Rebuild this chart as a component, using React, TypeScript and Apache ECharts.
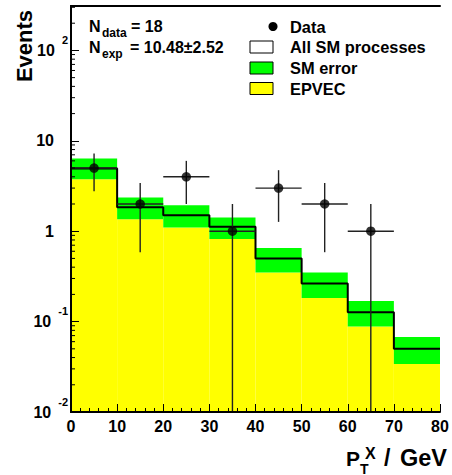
import React, { useEffect, useRef } from 'react';
import * as echarts from 'echarts';

// ---- data ----
const binEdges = [0, 10, 20, 30, 40, 50, 60, 70, 80];
const smTotal = [4.93, 1.84, 1.5, 1.12, 0.5, 0.264, 0.127, 0.05];
const smErrUp = [6.36, 2.36, 1.94, 1.42, 0.65, 0.35, 0.169, 0.0675];
const smErrDown = [3.76, 1.36, 1.1, 0.82, 0.35, 0.182, 0.088, 0.034];
const dataX = [5, 15, 25, 35, 45, 55, 65];
const dataCounts = [5, 2, 4, 1, 3, 2, 1];
const legendLabels = ['Data', 'All SM processes', 'SM error', 'EPVEC'];
const nDataText = '= 18';
const nExpText = '= 10.48\u00b12.52';

const Y_MIN = 0.01;
const Y_MAX = 310;
const X_MIN = 0;
const X_MAX = 80;
const HALF_BIN = 5;

// minor log ticks (2..9 x 10^k)
const minorTickValues: number[] = [];
for (let k = -2; k <= 2; k++) {
  for (let m = 2; m <= 9; m++) {
    const v = m * Math.pow(10, k);
    if (v < Y_MAX) minorTickValues.push(v);
  }
}

const FONT = '"Liberation Sans", Arial, Helvetica, sans-serif';
const bold = (size: number) => `bold ${size}px ${FONT}`;

export default function App() {
  const ref = useRef<HTMLDivElement>(null);
  useEffect(() => {
    if (!ref.current) return;
    const chart = echarts.init(ref.current, undefined, { renderer: 'svg' });

    const bins = binEdges.slice(0, -1).map((x, i) => [x, binEdges[i + 1], smErrDown[i], smErrUp[i]]);
    const stepLine = binEdges.map((x, i) => [x, smTotal[Math.min(i, smTotal.length - 1)]]);

    const legendRowY = [26.5, 47, 68, 88.5];
    const legendFills = ['#ffffff', '#00ff00', '#ffff00'];

    const graphic: any[] = [
      // Y title
      {
        type: 'text', x: 24, y: 46, rotation: Math.PI / 2,
        style: { text: 'Events', font: bold(22), fill: '#000', align: 'center', verticalAlign: 'middle' },
      },
      // N texts
      { type: 'text', x: 89, y: 26.5, style: { text: 'N', font: bold(16), fill: '#000', verticalAlign: 'middle' } },
      { type: 'text', x: 102, y: 33, style: { text: 'data', font: bold(12), fill: '#000', verticalAlign: 'middle' } },
      { type: 'text', x: 131, y: 26.5, style: { text: nDataText, font: bold(16), fill: '#000', verticalAlign: 'middle' } },
      { type: 'text', x: 89, y: 47, style: { text: 'N', font: bold(16), fill: '#000', verticalAlign: 'middle' } },
      { type: 'text', x: 102, y: 53.5, style: { text: 'exp', font: bold(12), fill: '#000', verticalAlign: 'middle' } },
      { type: 'text', x: 130, y: 47, style: { text: nExpText, font: bold(16), fill: '#000', verticalAlign: 'middle' } },
      // legend marker
      { type: 'circle', shape: { cx: 273, cy: legendRowY[0], r: 4.5 }, style: { fill: '#000' } },
      // X title
      { type: 'text', x: 346, y: 458, style: { text: 'P', font: bold(21), fill: '#000', verticalAlign: 'middle' } },
      { type: 'text', x: 360, y: 468.5, style: { text: 'T', font: bold(14), fill: '#000', verticalAlign: 'middle' } },
      { type: 'text', x: 365, y: 453, style: { text: 'X', font: bold(16), fill: '#000', verticalAlign: 'middle' } },
      { type: 'text', x: 384, y: 458, style: { text: '/', font: bold(23), fill: '#000', verticalAlign: 'middle' } },
      { type: 'text', x: 447, y: 458, style: { text: 'GeV', font: bold(23.5), fill: '#000', align: 'right', verticalAlign: 'middle' } },
    ];
    legendLabels.forEach((lab, i) => {
      graphic.push({ type: 'text', x: 290, y: legendRowY[i], style: { text: lab, font: bold(16.4), fill: '#000', verticalAlign: 'middle' } });
      if (i > 0) {
        graphic.push({
          type: 'rect', shape: { x: 250, y: legendRowY[i] - 6, width: 23, height: 12 },
          style: { fill: legendFills[i - 1], stroke: '#000', lineWidth: 1 },
        });
      }
    });

    const option: any = {
      animation: false,
      grid: { left: 71, right: 12, top: 6, bottom: 63, containLabel: false },
      xAxis: [
        {
          type: 'value', min: X_MIN, max: X_MAX, interval: 10, z: 10,
          axisLine: { show: true, onZero: false, lineStyle: { color: '#000', width: 2 } },
          axisTick: { show: true, inside: true, length: 8, lineStyle: { color: '#000', width: 1 } },
          minorTick: { show: true, splitNumber: 5, length: 4, lineStyle: { color: '#000', width: 1 } },
          splitLine: { show: false },
          axisLabel: { margin: 6, color: '#000', fontSize: 16, fontWeight: 'bold', fontFamily: FONT },
        },
        {
          type: 'value', min: X_MIN, max: X_MAX, position: 'top', z: 10,
          axisLine: { show: true, onZero: false, lineStyle: { color: '#000', width: 2 } },
          axisTick: { show: false }, axisLabel: { show: false }, splitLine: { show: false },
        },
      ],
      yAxis: [
        {
          type: 'log', logBase: 10, min: Y_MIN, max: Y_MAX, z: 10,
          axisLine: { show: true, lineStyle: { color: '#000', width: 2 } },
          axisTick: { show: true, inside: true, length: 8, lineStyle: { color: '#000', width: 1 } },
          splitLine: { show: false },
          axisLabel: {
            margin: 3, color: '#000', fontSize: 16, fontWeight: 'bold', fontFamily: FONT,
            showMaxLabel: false,
            formatter: (v: number) => {
              const e = Math.round(Math.log10(v));
              if (e === 0) return '{p|1}';
              if (e === 1) return '{p|10}';
              return `{b|10}{s|${e}}`;
            },
            rich: {
              p: { fontSize: 16, fontWeight: 'bold', fontFamily: FONT, color: '#000', padding: [0, 14, 0, 0] },
              b: { fontSize: 16, fontWeight: 'bold', fontFamily: FONT, color: '#000', lineHeight: 16, verticalAlign: 'middle' },
              s: { fontSize: 11, fontWeight: 'bold', fontFamily: FONT, color: '#000', lineHeight: 11, padding: [0, 0, 21, 7], verticalAlign: 'middle' },
            },
          },
        },
        {
          type: 'log', logBase: 10, min: Y_MIN, max: Y_MAX, position: 'right', z: 10,
          axisLine: { show: true, lineStyle: { color: '#000', width: 2 } },
          axisTick: { show: false }, axisLabel: { show: false }, splitLine: { show: false },
        },
      ],
      graphic,
      series: [
        {
          name: 'EPVEC', type: 'custom', z: 1, silent: true,
          encode: { x: [0, 1], y: 2 },
          data: bins.map((b) => [b[0], b[1], b[2]]),
          renderItem: (params: any, api: any) => {
            const p0 = api.coord([api.value(0), api.value(2)]);
            const p1 = api.coord([api.value(1), api.value(2)]);
            const bottom = params.coordSys.y + params.coordSys.height;
            return { type: 'rect', shape: { x: p0[0], y: p0[1], width: p1[0] - p0[0], height: bottom - p0[1] }, style: { fill: '#ffff00' } };
          },
        },
        {
          name: 'SM error', type: 'custom', z: 1, silent: true,
          encode: { x: [0, 1], y: [2, 3] },
          data: bins,
          renderItem: (params: any, api: any) => {
            const p0 = api.coord([api.value(0), api.value(3)]);
            const p1 = api.coord([api.value(1), api.value(2)]);
            return { type: 'rect', shape: { x: p0[0], y: p0[1], width: p1[0] - p0[0], height: p1[1] - p0[1] }, style: { fill: '#00ff00' } };
          },
        },
        {
          name: 'All SM processes', type: 'line', step: 'end', z: 3, silent: true,
          symbol: 'none', data: stepLine,
          lineStyle: { color: '#000', width: 2 },
        },
        {
          name: 'Data errors', type: 'custom', z: 4, silent: true,
          encode: { x: 0, y: 1 },
          data: dataX.map((x, i) => [x, dataCounts[i]]),
          renderItem: (params: any, api: any) => {
            const x = api.value(0);
            const v = api.value(1);
            const e = Math.sqrt(v);
            const top = api.coord([x, v + e]);
            const bottom = v - e > Y_MIN ? api.coord([x, v - e])[1] : params.coordSys.y + params.coordSys.height;
            const l = api.coord([x - HALF_BIN, v]);
            const r = api.coord([x + HALF_BIN, v]);
            const st = { stroke: '#222', lineWidth: 1.4 };
            return {
              type: 'group',
              children: [
                { type: 'line', shape: { x1: top[0], y1: top[1], x2: top[0], y2: bottom }, style: st },
                { type: 'line', shape: { x1: l[0], y1: l[1], x2: r[0], y2: r[1] }, style: st },
              ],
            };
          },
        },
        {
          name: 'Data', type: 'scatter', z: 5, silent: true,
          symbol: 'circle', symbolSize: 9.5,
          itemStyle: { color: '#000' },
          data: dataX.map((x, i) => [x, dataCounts[i]]),
        },
        {
          name: 'minor ticks', type: 'custom', z: 6, silent: true,
          encode: { x: 0, y: 1 },
          data: minorTickValues.map((v) => [X_MIN, v]),
          renderItem: (params: any, api: any) => {
            const p = api.coord([X_MIN, api.value(1)]);
            return { type: 'line', shape: { x1: p[0], y1: p[1], x2: p[0] + 4, y2: p[1] }, style: { stroke: '#000', lineWidth: 1 } };
          },
        },
      ],
    };
    chart.setOption(option);
    return () => chart.dispose();
  }, []);
  return <div ref={ref} style={{ position: 'fixed', left: 0, top: 0, width: 452, height: 475, background: '#fff' }} />;
}
